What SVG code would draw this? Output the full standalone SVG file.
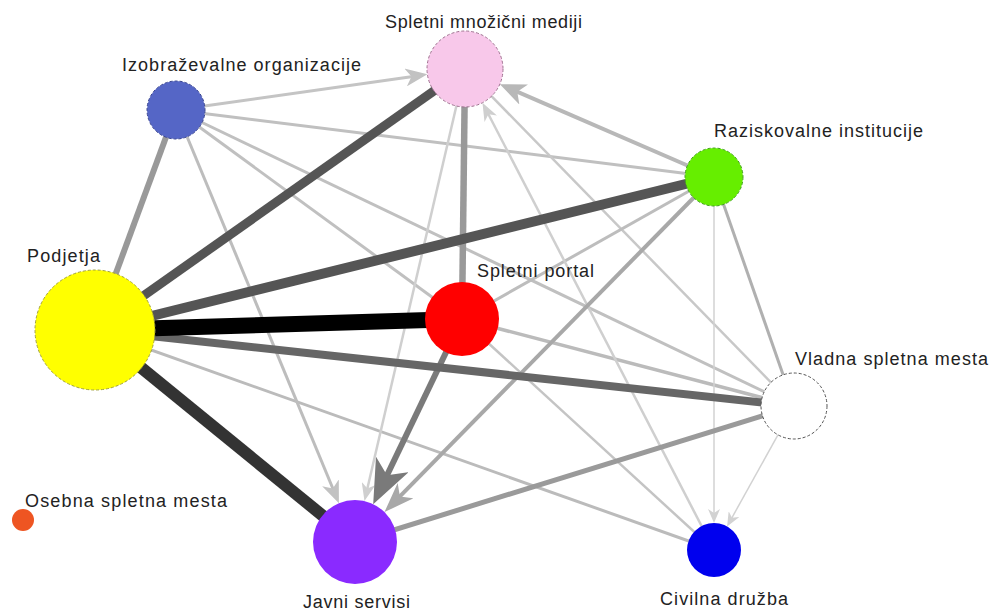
<svg xmlns="http://www.w3.org/2000/svg" width="991" height="611" viewBox="0 0 991 611">
<defs>
<style>
.lbl{font-family:"Liberation Sans",Arial,sans-serif;font-size:18px;fill:#222;}
.e{fill:none;stroke-linecap:butt;}
.nd{stroke-width:1;stroke-dasharray:3 2;}
</style>
<marker id="aS" markerUnits="userSpaceOnUse" markerWidth="44" markerHeight="36" refX="22" refY="18" orient="auto"><path d="M0,0 L44,18 L0,36 L12,18 z" fill="#7a7a7a"/></marker>
<marker id="aRJ" markerUnits="userSpaceOnUse" markerWidth="30" markerHeight="22" refX="15" refY="11" orient="auto"><path d="M0,0 L30,11 L0,22 L8,11 z" fill="#a8a8a8"/></marker>
<marker id="aRM" markerUnits="userSpaceOnUse" markerWidth="26" markerHeight="22" refX="13" refY="11" orient="auto"><path d="M0,0 L26,11 L0,22 L7,11 z" fill="#b8b8b8"/></marker>
<marker id="aL" markerUnits="userSpaceOnUse" markerWidth="22" markerHeight="18" refX="11" refY="9" orient="auto"><path d="M0,0 L22,9 L0,18 L6,9 z" fill="#c2c2c2"/></marker>
<marker id="aL2" markerUnits="userSpaceOnUse" markerWidth="18" markerHeight="14" refX="9" refY="7" orient="auto"><path d="M0,0 L18,7 L0,14 L5,7 z" fill="#cfcfcf"/></marker>
<marker id="aT" markerUnits="userSpaceOnUse" markerWidth="14" markerHeight="12" refX="7" refY="6" orient="auto"><path d="M0,0 L14,6 L0,12 L4,6 z" fill="#d2d2d2"/></marker>
</defs>
<rect width="991" height="611" fill="#ffffff"/>
<g id="connectors">
<line class="e" x1="95" y1="330" x2="714" y2="550" stroke="#bbbbbb" stroke-width="3"/>
<line class="e" x1="176" y1="110" x2="714" y2="177" stroke="#c0c0c0" stroke-width="3"/>
<line class="e" x1="176" y1="110" x2="794" y2="406" stroke="#c0c0c0" stroke-width="3"/>
<line class="e" x1="176" y1="110" x2="462" y2="319" stroke="#c0c0c0" stroke-width="3"/>
<line class="e" x1="465" y1="69" x2="794" y2="406" stroke="#c8c8c8" stroke-width="2.5"/>
<line class="e" x1="714" y1="177" x2="462" y2="319" stroke="#bdbdbd" stroke-width="3"/>
<line class="e" x1="714" y1="177" x2="794" y2="406" stroke="#b0b0b0" stroke-width="3"/>
<line class="e" x1="462" y1="319" x2="794" y2="406" stroke="#bbbbbb" stroke-width="3.5"/>
<line class="e" x1="462" y1="319" x2="714" y2="550" stroke="#c4c4c4" stroke-width="2.5"/>
<line class="e" x1="176" y1="110" x2="416.5" y2="75.9" stroke="#c4c4c4" stroke-width="3" marker-end="url(#aL)"/>
<line class="e" x1="176" y1="110" x2="334.7" y2="493" stroke="#bdbdbd" stroke-width="3" marker-end="url(#aL)"/>
<line class="e" x1="465" y1="69" x2="366.5" y2="492.3" stroke="#cfcfcf" stroke-width="2.5" marker-end="url(#aL2)"/>
<line class="e" x1="714" y1="550" x2="486.6" y2="110.7" stroke="#cfcfcf" stroke-width="2.5" marker-end="url(#aL2)"/>
<line class="e" x1="714" y1="177" x2="511.8" y2="89.3" stroke="#b8b8b8" stroke-width="4" marker-end="url(#aRM)"/>
<line class="e" x1="714" y1="177" x2="395" y2="501.4" stroke="#a8a8a8" stroke-width="4" marker-end="url(#aRJ)"/>
<line class="e" x1="714" y1="177" x2="714" y2="516" stroke="#d2d2d2" stroke-width="1.5" marker-end="url(#aT)"/>
<line class="e" x1="794" y1="406" x2="730.5" y2="520.3" stroke="#d2d2d2" stroke-width="1.5" marker-end="url(#aT)"/>
<line class="e" x1="355" y1="542" x2="794" y2="406" stroke="#9a9a9a" stroke-width="5"/>
<line class="e" x1="465" y1="69" x2="462" y2="319" stroke="#999999" stroke-width="6.5"/>
<line class="e" x1="95" y1="330" x2="176" y2="110" stroke="#999999" stroke-width="6"/>
<line class="e" x1="462" y1="319" x2="382.7" y2="484.3" stroke="#7a7a7a" stroke-width="6" marker-end="url(#aS)"/>
<line class="e" x1="95" y1="330" x2="794" y2="406" stroke="#666666" stroke-width="8"/>
<line class="e" x1="95" y1="330" x2="465" y2="69" stroke="#555555" stroke-width="9"/>
<line class="e" x1="95" y1="330" x2="714" y2="177" stroke="#555555" stroke-width="10"/>
<line class="e" x1="95" y1="330" x2="355" y2="542" stroke="#333333" stroke-width="12"/>
<line class="e" x1="95" y1="330" x2="462" y2="319" stroke="#000000" stroke-width="16"/>
</g>
<g id="node-podjetja">
<circle class="nd" cx="95" cy="330" r="60" fill="#ffff00" stroke="#a0a040"/>
<text class="lbl" x="27" y="262" textLength="73">Podjetja</text>
</g>
<g id="node-izobrazevalne">
<circle class="nd" cx="176" cy="110" r="29" fill="#5566c6" stroke="#3a4690"/>
<text class="lbl" x="122" y="71" textLength="239">Izobraževalne organizacije</text>
</g>
<g id="node-mediji">
<circle class="nd" cx="465" cy="69" r="38" fill="#f8c8ea" stroke="#a07090"/>
<text class="lbl" x="385" y="28" textLength="197">Spletni množični mediji</text>
</g>
<g id="node-raziskovalne">
<circle class="nd" cx="714" cy="177" r="29" fill="#66ee00" stroke="#44a020"/>
<text class="lbl" x="714" y="137" textLength="209">Raziskovalne institucije</text>
</g>
<g id="node-portal">
<circle cx="462" cy="319" r="37" fill="#ff0000"/>
<text class="lbl" x="477" y="277" textLength="117">Spletni portal</text>
</g>
<g id="node-vladna">
<circle class="nd" cx="794" cy="406" r="33" fill="#ffffff" stroke="#555555"/>
<text class="lbl" x="795" y="365" textLength="193">Vladna spletna mesta</text>
</g>
<g id="node-civilna">
<circle cx="714" cy="550" r="27" fill="#0000ee"/>
<text class="lbl" x="660" y="605" textLength="128">Civilna družba</text>
</g>
<g id="node-javni">
<circle cx="355" cy="542" r="42" fill="#8a2aff"/>
<text class="lbl" x="303" y="608" textLength="107">Javni servisi</text>
</g>
<g id="node-osebna">
<circle cx="23" cy="520" r="11" fill="#ee5522"/>
<text class="lbl" x="25" y="507" textLength="202">Osebna spletna mesta</text>
</g>
</svg>
